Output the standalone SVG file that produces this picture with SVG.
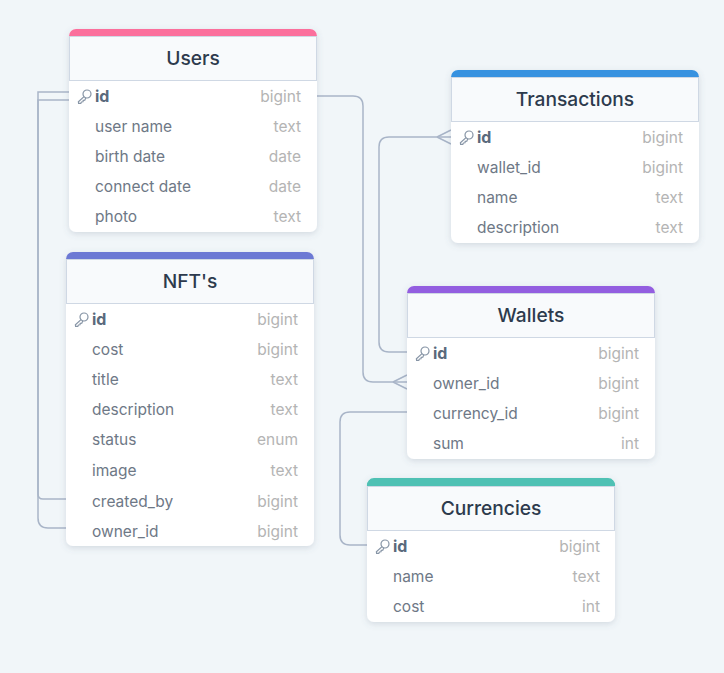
<svg xmlns="http://www.w3.org/2000/svg" width="724" height="673" viewBox="0 0 724 673">
<style>
text{font-family:Inter,"Liberation Sans",sans-serif}
.t{font-size:19.2px;font-weight:500;fill:#2d3a4d;text-anchor:middle}
.n{font-size:15.500px;fill:#6e7886}
.k{font-size:16px;font-weight:700;fill:#5a6a7c}
.y{font-size:15.500px;fill:#b4b4b4;text-anchor:end}
.c{fill:none;stroke:#a9b5c8;stroke-width:1.5}
.b{fill:#fff;filter:url(#s)}
.h{fill:#f8fafc;stroke:#cfd8e4;stroke-width:1}
.g{fill:none;stroke:#8795a6;stroke-width:1.200}
</style>
<defs>
<filter id="s" x="-10%" y="-10%" width="120%" height="120%"><feDropShadow dx="0" dy="2" stdDeviation="3" flood-color="#5a6b80" flood-opacity="0.2"/></filter>
<g id="key"><circle cx="9" cy="-3" r="4" class="g"/><path class="g" d="M6-0.400 L0.400 4.800 L0.600 6.400 L2.800 6.400 L3.400 5 L5 4.800 L5.200 3.400 L6.800 3.200 L7.800 0.800"/></g>
</defs>
<rect width="724" height="673" fill="#f1f6f9"/>
<g id="connectors">
<path class="c" d="M69 92H38V494Q38 499 43 499H66"/>
<path class="c" d="M69 100H38V518Q38 528 48 528H66"/>
<path class="c" d="M317 96H353Q363 96 363 106V372Q363 382 373 382H407"/>
<path class="c" d="M407 352H389Q379 352 379 342V147Q379 137 389 137H451"/>
<path class="c" d="M407 412H350Q340 412 340 422V535Q340 545 350 545H367"/>
<path class="c" d="M393 382L407 375M393 382L407 389"/>
<path class="c" d="M437 137L451 130M437 137L451 144"/>
</g>
<g id="users">
<rect class="b" x="69" y="29" width="248" height="203" rx="7"/>
<path fill="#fb6f9c" d="M69 36a7 7 0 0 1 7-7H310a7 7 0 0 1 7 7Z"/>
<rect class="h" x="69.500" y="36.500" width="247" height="44"/>
<text class="t" x="193" y="65">Users</text>
<use href="#key" x="78" y="97"/>
<text class="k" x="95" y="102">id</text><text class="y" x="301" y="102">bigint</text>
<text class="n" x="95" y="132">user name</text><text class="y" x="301" y="132">text</text>
<text class="n" x="95" y="162">birth date</text><text class="y" x="301" y="162">date</text>
<text class="n" x="95" y="192">connect date</text><text class="y" x="301" y="192">date</text>
<text class="n" x="95" y="222">photo</text><text class="y" x="301" y="222">text</text>
</g>
<g id="nfts">
<rect class="b" x="66" y="252" width="248" height="294" rx="7"/>
<path fill="#6c79d4" d="M66 259a7 7 0 0 1 7-7H307a7 7 0 0 1 7 7Z"/>
<rect class="h" x="66.500" y="259.500" width="247" height="44"/>
<text class="t" x="190" y="288">NFT's</text>
<use href="#key" x="75" y="320"/>
<text class="k" x="92" y="325">id</text><text class="y" x="298" y="325">bigint</text>
<text class="n" x="92" y="355">cost</text><text class="y" x="298" y="355">bigint</text>
<text class="n" x="92" y="385">title</text><text class="y" x="298" y="385">text</text>
<text class="n" x="92" y="415">description</text><text class="y" x="298" y="415">text</text>
<text class="n" x="92" y="445">status</text><text class="y" x="298" y="445">enum</text>
<text class="n" x="92" y="476">image</text><text class="y" x="298" y="476">text</text>
<text class="n" x="92" y="507">created_by</text><text class="y" x="298" y="507">bigint</text>
<text class="n" x="92" y="537">owner_id</text><text class="y" x="298" y="537">bigint</text>
</g>
<g id="transactions">
<rect class="b" x="451" y="70" width="248" height="173" rx="7"/>
<path fill="#3792e0" d="M451 77a7 7 0 0 1 7-7H692a7 7 0 0 1 7 7Z"/>
<rect class="h" x="451.500" y="77.500" width="247" height="44"/>
<text class="t" x="575" y="106">Transactions</text>
<use href="#key" x="460" y="138"/>
<text class="k" x="477" y="143">id</text><text class="y" x="683" y="143">bigint</text>
<text class="n" x="477" y="173">wallet_id</text><text class="y" x="683" y="173">bigint</text>
<text class="n" x="477" y="203">name</text><text class="y" x="683" y="203">text</text>
<text class="n" x="477" y="233">description</text><text class="y" x="683" y="233">text</text>
</g>
<g id="wallets">
<rect class="b" x="407" y="286" width="248" height="173" rx="7"/>
<path fill="#935ee0" d="M407 293a7 7 0 0 1 7-7H648a7 7 0 0 1 7 7Z"/>
<rect class="h" x="407.500" y="293.500" width="247" height="44"/>
<text class="t" x="531" y="322">Wallets</text>
<use href="#key" x="416" y="354"/>
<text class="k" x="433" y="359">id</text><text class="y" x="639" y="359">bigint</text>
<text class="n" x="433" y="389">owner_id</text><text class="y" x="639" y="389">bigint</text>
<text class="n" x="433" y="419">currency_id</text><text class="y" x="639" y="419">bigint</text>
<text class="n" x="433" y="449">sum</text><text class="y" x="639" y="449">int</text>
</g>
<g id="currencies">
<rect class="b" x="367" y="478" width="248" height="144" rx="7"/>
<path fill="#4fc1b4" d="M367 486a7 7 0 0 1 7-8H608a7 7 0 0 1 7 8Z"/>
<rect class="h" x="367.500" y="486.500" width="247" height="44"/>
<text class="t" x="491" y="515">Currencies</text>
<use href="#key" x="376" y="547"/>
<text class="k" x="393" y="552">id</text><text class="y" x="600" y="552">bigint</text>
<text class="n" x="393" y="582">name</text><text class="y" x="600" y="582">text</text>
<text class="n" x="393" y="612">cost</text><text class="y" x="600" y="612">int</text>
</g>
</svg>
